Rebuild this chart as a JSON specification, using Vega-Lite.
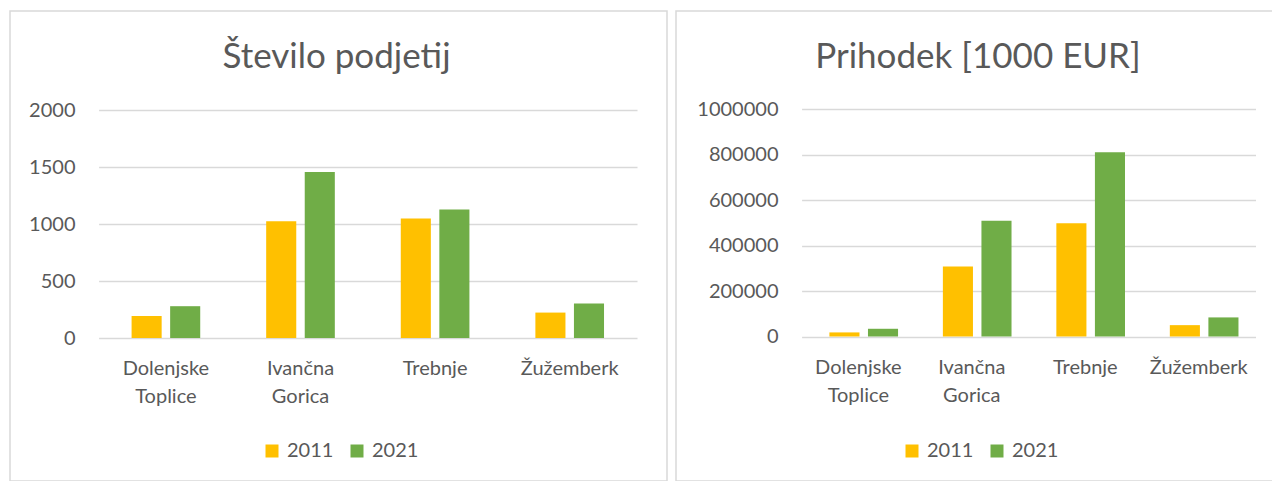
{
  "$schema": "https://vega.github.io/schema/vega-lite/v6.json",
  "padding": {"left": 9, "top": 10, "right": 0, "bottom": 0},
  "background": "white",
  "data": {"values": [
    {"obcina": "Dolenjske Toplice", "leto": "2011", "podjetja": 193, "prihodek": 18000},
    {"obcina": "Dolenjske Toplice", "leto": "2021", "podjetja": 279, "prihodek": 34000},
    {"obcina": "Ivančna Gorica", "leto": "2011", "podjetja": 1025, "prihodek": 308000},
    {"obcina": "Ivančna Gorica", "leto": "2021", "podjetja": 1456, "prihodek": 509000},
    {"obcina": "Trebnje", "leto": "2011", "podjetja": 1048, "prihodek": 498000},
    {"obcina": "Trebnje", "leto": "2021", "podjetja": 1128, "prihodek": 811000},
    {"obcina": "Žužemberk", "leto": "2011", "podjetja": 223, "prihodek": 50000},
    {"obcina": "Žužemberk", "leto": "2021", "podjetja": 302, "prihodek": 84000}
  ]},
  "spacing": 7,
  "resolve": {"legend": {"color": "independent"}},
  "hconcat": [
    {
      "width": 657,
      "height": 470,
      "title": {"text": "Število podjetij", "offset": -92, "baseline": "alphabetic", "dx": -2},
      "mark": {"type": "bar"},
      "encoding": {
        "x": {
          "field": "obcina", "type": "nominal", "sort": null,
          "scale": {"range": [88.6, 627], "paddingInner": 0.49, "paddingOuter": 0.245},
          "axis": {"title": null, "labelAngle": 0, "orient": "bottom", "offset": -143, "labelPadding": 20, "labelExpr": "split(datum.label, ' ')"}
        },
        "xOffset": {"field": "leto", "type": "nominal", "scale": {"paddingInner": 0.22}},
        "y": {
          "field": "podjetja", "type": "quantitative",
          "scale": {"domain": [0, 2000], "nice": false, "range": [327, 99]},
          "axis": {"title": null, "values": [0, 500, 1000, 1500, 2000], "offset": -67, "labelPadding": 2, "format": "d"}
        },
        "color": {
          "field": "leto", "type": "nominal",
          "scale": {"domain": ["2011", "2021"], "range": ["#FFC000", "#70AD47"]},
          "legend": {"title": null, "orient": "none", "legendX": 252, "legendY": 430, "direction": "horizontal"}
        }
      }
    },
    {
      "width": 598,
      "height": 470,
      "title": {"text": "Prihodek [1000 EUR]", "offset": -92, "baseline": "alphabetic", "dx": 3},
      "mark": {"type": "bar"},
      "encoding": {
        "x": {
          "field": "obcina", "type": "nominal", "sort": null,
          "scale": {"range": [125.6, 579.5], "paddingInner": 0.49, "paddingOuter": 0.245},
          "axis": {"title": null, "labelAngle": 0, "orient": "bottom", "offset": -144, "labelPadding": 20, "labelExpr": "split(datum.label, ' ')"}
        },
        "xOffset": {"field": "leto", "type": "nominal", "scale": {"paddingInner": 0.22}},
        "y": {
          "field": "prihodek", "type": "quantitative",
          "scale": {"domain": [0, 1000000], "nice": false, "range": [325.5, 98.3]},
          "axis": {"title": null, "values": [0, 200000, 400000, 600000, 800000, 1000000], "offset": -104, "labelPadding": 2, "format": "d"}
        },
        "color": {
          "field": "leto", "type": "nominal",
          "scale": {"domain": ["2011", "2021"], "range": ["#FFC000", "#70AD47"]},
          "legend": {"title": null, "orient": "none", "legendX": 226, "legendY": 430, "direction": "horizontal"}
        }
      }
    }
  ],
  "config": {
    "font": "Lato",
    "view": {"stroke": "#d9d9d9", "strokeWidth": 1.5},
    "title": {"font": "Lato", "fontSize": 35, "fontWeight": "normal", "color": "#595959", "anchor": "middle", "frame": "group"},
    "axis": {
      "labelFont": "Lato", "labelFontSize": 20, "labelColor": "#595959",
      "ticks": false, "tickSize": 0, "domain": false,
      "gridColor": "#d9d9d9", "gridWidth": 1.5, "labelLineHeight": 28
    },
    "axisX": {"grid": false},
    "axisY": {"grid": true},
    "legend": {
      "labelFont": "Lato", "labelFontSize": 20, "labelColor": "#595959",
      "symbolType": "square", "symbolSize": 169, "symbolStrokeWidth": 0,
      "labelOffset": 5, "columnPadding": 13, "padding": 0
    }
  }
}
